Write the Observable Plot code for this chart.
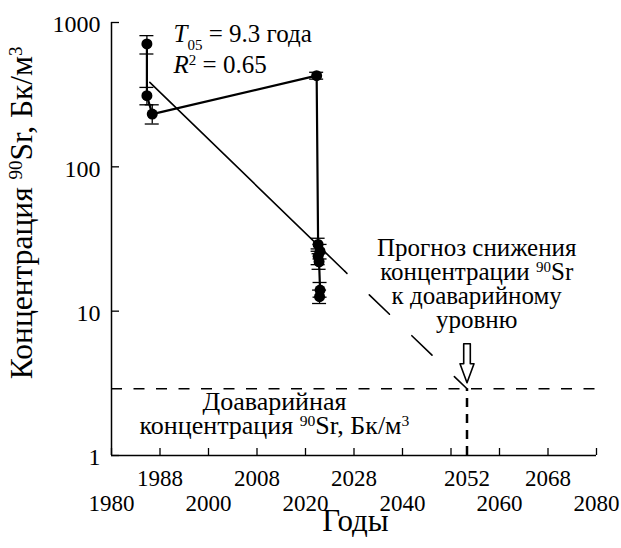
<!DOCTYPE html>
<html><head><meta charset="utf-8">
<script src="https://cdn.jsdelivr.net/npm/d3@7"></script>
<script src="https://cdn.jsdelivr.net/npm/@observablehq/plot@0.6"></script>
<style>body{margin:0;background:#fff} svg text{font-family:"Liberation Serif","Times New Roman",Tinos,"DejaVu Serif",serif}</style>
</head><body><div id="chart"></div>
<script>
// measured points (years, Bq/m3) in measurement order
const years  = [1987.3, 1987.3, 1988.4, 2022.3, 2022.6, 2023.0, 2022.6, 2022.8, 2023.0, 2022.9];
const values = [710, 311, 232, 428, 29, 26, 24, 22, 14, 12.6];
const errLo  = [605, 269, 198, 405, 26, 23, 21, 19.5, 12.5, 11.3];
const errHi  = [811, 355, 269, 452, 32, 29, 27, 25, 15.8, 14];
// exponential fit and forecast
const fitYears = [1987.9, 2028.1];
const fitValues = [385, 18.9];
const forecastYears = [2028.1, 2053.3];
const forecastValues = [18.9, 2.9];
const preAccidentLevel = 2.9;
const targetYear = 2053.3;
// axes
const yTicks = [1, 10, 100, 1000];
const yTickLabels = ["1", "10", "100", "1000"];
const xTicks = [1980, 1990, 2000, 2010, 2020, 2030, 2040, 2050, 2060, 2070, 2080];
const xBottomTicks = [1980, 2000, 2020, 2040, 2060, 2080];
const xBottomLabels = ["1980", "2000", "2020", "2040", "2060", "2080"];
const xTopTicks = [1990, 2010, 2030, 2053.3, 2070];
const xTopLabels = ["1988", "2008", "2028", "2052", "2068"];
// texts
const xTitle = "Годы";
const yTitle = "Концентрация ^{90}Sr, Бк/м^{3}";
const fitTexts = ["~{T}_{05} = 9.3 года", "~{R}^{2} = 0.65"];
const fitTextX = [1992.8, 1992.8];
const fitTextY = [730, 448];
const forecastText = "Прогноз снижения\nконцентрации ^{90}Sr\nк доаварийному\nуровню";
const levelText = "Доаварийная\nконцентрация ^{90}Sr, Бк/м^{3}";

const font = '"Liberation Serif","Times New Roman",Tinos,"DejaVu Serif",serif';
const idx = years.map((_, i) => i);

const chart = Plot.plot({
  width: 621, height: 548,
  marginLeft: 111, marginRight: 25, marginTop: 22, marginBottom: 93,
  style: {fontFamily: font, color: "#000", background: "#fff"},
  x: {domain: [1980, 2080], axis: null},
  y: {type: "log", domain: [1, 1000], axis: null},
  marks: [
    Plot.ruleX([1980], {y1: 1, y2: 1000, strokeWidth: 1.5}),
    Plot.ruleY([1], {x1: 1980, x2: 2080, strokeWidth: 1.5}),
    Plot.ruleX(xTicks, {x: d => d, y1: () => 1, y2: () => 1, insetBottom: 7, strokeWidth: 1.3}),
    Plot.ruleY(yTicks, {y: d => d, x1: () => 1980, x2: () => 1980, insetRight: -8, strokeWidth: 1.3}),
    Plot.text(yTicks, {x: () => 1980, y: d => d, text: (d, i) => yTickLabels[i], dx: -11, dy: 2, textAnchor: "end", lineAnchor: "middle", fontSize: 24, fontFamily: font}),
    Plot.text(xBottomTicks, {x: d => d, y: () => 1, text: (d, i) => xBottomLabels[i], dy: 55, lineAnchor: "bottom", fontSize: 23, fontFamily: font}),
    Plot.text(xTopTicks, {x: d => d, y: () => 1, text: (d, i) => xTopLabels[i], dy: 30, lineAnchor: "bottom", fontSize: 23, fontFamily: font}),
    Plot.text([xTitle], {x: () => 2030.3, y: () => 1, text: d => d, dy: 75, lineAnchor: "bottom", fontSize: 31, fontFamily: font}),
    Plot.text([yTitle], {x: () => 1961.6, y: () => 48, text: d => d, rotate: -90, lineAnchor: "middle", fontSize: 31.5, fontFamily: font}),
    Plot.ruleY([preAccidentLevel], {x1: 1980, x2: 2080, strokeWidth: 1.5, strokeDasharray: "11 11.5"}),
    Plot.ruleX([targetYear], {y1: 1, y2: preAccidentLevel, strokeWidth: 2.5, strokeDasharray: "9 7"}),
    Plot.line(fitYears.map((d, i) => i), {x: i => fitYears[i], y: i => fitValues[i], strokeWidth: 1.6}),
    Plot.line(forecastYears.map((d, i) => i), {x: i => forecastYears[i], y: i => forecastValues[i], strokeWidth: 1.6, strokeDasharray: "28 31", strokeDashoffset: 25}),
    Plot.line(idx, {x: i => years[i], y: i => values[i], strokeWidth: 2.2}),
    Plot.ruleX(idx, {x: i => years[i], y1: i => errLo[i], y2: i => errHi[i], strokeWidth: 1.3}),
    Plot.ruleY(idx, {y: i => errLo[i], x1: i => years[i], x2: i => years[i], insetLeft: -7, insetRight: -7, strokeWidth: 1.3}),
    Plot.ruleY(idx, {y: i => errHi[i], x1: i => years[i], x2: i => years[i], insetLeft: -7, insetRight: -7, strokeWidth: 1.3}),
    Plot.dot(idx, {x: i => years[i], y: i => values[i], r: 5.5, fill: "#000"}),
    Plot.vector([targetYear], {x: d => d, y: () => preAccidentLevel, length: 39, rotate: 180, anchor: "end", dy: -6,
      stroke: "#000", strokeWidth: 1.6,
      shape: {draw(ctx, l) {
        const hs = 3.3, hh = 7, hl = 19;
        ctx.moveTo(-hs, 0); ctx.lineTo(-hs, -l + hl); ctx.lineTo(-hh, -l + hl); ctx.lineTo(0, -l);
        ctx.lineTo(hh, -l + hl); ctx.lineTo(hs, -l + hl); ctx.lineTo(hs, 0); ctx.closePath();
      }}}),
    Plot.text(fitTexts, {x: (d, i) => fitTextX[i], y: (d, i) => fitTextY[i], text: d => d, textAnchor: "start", lineAnchor: "bottom", fontSize: 25, fontFamily: font}),
    Plot.text([forecastText], {x: () => 2055.3, y: () => 7.7, text: d => d, lineAnchor: "bottom", lineHeight: 0.96, fontSize: 25, fontFamily: font}),
    Plot.text([levelText], {x: () => 2013.6, y: () => 1.40, text: d => d, lineAnchor: "bottom", lineHeight: 0.94, fontSize: 26, fontFamily: font})
  ]
});

const NS = "http://www.w3.org/2000/svg";
function richify(el) {
  const s = el.textContent;
  if (!/[\^_~]\{/.test(s)) return;
  while (el.firstChild) el.removeChild(el.firstChild);
  const re = /([\^_~])\{([^}]*)\}/g;
  let last = 0, m;
  while ((m = re.exec(s))) {
    if (m.index > last) el.appendChild(document.createTextNode(s.slice(last, m.index)));
    const t = document.createElementNS(NS, "tspan");
    t.textContent = m[2];
    if (m[1] === "^") { t.setAttribute("baseline-shift", "super"); t.setAttribute("style", "font-size:60%"); }
    else if (m[1] === "_") { t.setAttribute("baseline-shift", "sub"); t.setAttribute("style", "font-size:60%"); }
    else t.setAttribute("font-style", "italic");
    el.appendChild(t);
    last = re.lastIndex;
  }
  if (last < s.length) el.appendChild(document.createTextNode(s.slice(last)));
}
chart.querySelectorAll("text").forEach(t => {
  const spans = t.querySelectorAll(":scope > tspan");
  if (spans.length) spans.forEach(richify); else richify(t);
});
document.getElementById("chart").appendChild(chart);
</script>
</body></html>
